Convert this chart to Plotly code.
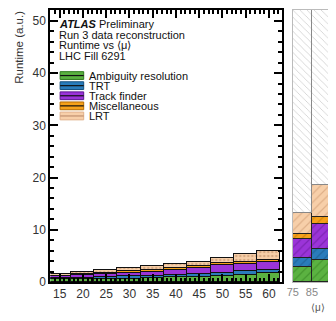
import plotly.graph_objects as go

# ---------------- data ----------------
mu_bins = [15, 20, 25, 30, 35, 40, 45, 50, 55, 60]
ambiguity = [0.50, 0.55, 0.60, 0.65, 0.75, 0.90, 1.00, 1.20, 1.35, 1.70]
trt = [0.20, 0.25, 0.35, 0.40, 0.45, 0.45, 0.60, 0.60, 0.75, 0.60]
track_finder = [0.35, 0.45, 0.55, 0.75, 0.80, 0.95, 1.10, 1.40, 1.40, 1.60]
misc = [0.15, 0.20, 0.25, 0.30, 0.35, 0.30, 0.30, 0.40, 0.40, 0.40]
lrt = [0.35, 0.45, 0.50, 0.50, 0.65, 0.80, 0.80, 1.00, 1.40, 1.60]

ext_bins = [80, 90]
ext_ambiguity = [2.8, 4.3]
ext_trt = [1.8, 2.0]
ext_track_finder = [3.6, 4.8]
ext_misc = [1.0, 1.3]
ext_lrt = [4.0, 6.1]

y_max = 52.1
x_ticks = [15, 20, 25, 30, 35, 40, 45, 50, 55, 60]
y_ticks = [0, 10, 20, 30, 40, 50]
ext_ticks = [75, 85, 95]

names = ["Ambiguity resolution", "TRT", "Track finder", "Miscellaneous", "LRT"]
colors = ["#5bb241", "#2a7cbb", "#9b34d8", "#f5a11b", "#f7cfa9"]
dark = ["#2f7a1e", "#16507f", "#5f1590", "#b56a00", "#c7926a"]

# page has an 8px body margin: figure occupies window pixels 8..336 / 8..321
OFF = 8
W, H = 336 - OFF, 321 - OFF
def px(x):
    return min(1, max(0, (x - OFF) / W))
def py(y):
    return min(1, max(0, 1 - (y - OFF) / H))

fig = go.Figure()

main_series = [ambiguity, trt, track_finder, misc, lrt]
ext_series = [ext_ambiguity, ext_trt, ext_track_finder, ext_misc, ext_lrt]

for i, (nm, vals) in enumerate(zip(names, main_series)):
    pattern = dict(shape=".", fgcolor="#b8865e", bgcolor=colors[i], size=4, solidity=0.35) if nm == "LRT" else None
    fig.add_trace(go.Bar(
        x=mu_bins, y=vals, width=5, name=nm, showlegend=False,
        marker=dict(color=colors[i], line=dict(color="#111", width=1), pattern=pattern),
        xaxis="x", yaxis="y"))

for i, (nm, vals) in enumerate(zip(names, ext_series)):
    fig.add_trace(go.Bar(
        x=ext_bins, y=vals, width=10, name=nm, showlegend=False,
        marker=dict(color=colors[i], line=dict(color="#222", width=1),
                    pattern=dict(shape="/", fgcolor=dark[i], bgcolor=colors[i], size=6, solidity=0.2)),
        xaxis="x2", yaxis="y2"))

# remaining (extrapolated) region above the stacks
ext_tot = [sum(v) for v in zip(*ext_series)]
fig.add_trace(go.Bar(
    x=ext_bins, y=[y_max - t for t in ext_tot], width=10, showlegend=False,
    marker=dict(color="white", line=dict(color="#888", width=1),
                pattern=dict(shape="\\", fgcolor="#9a9a9a", bgcolor="white", size=5, solidity=0.15)),
    xaxis="x2", yaxis="y2"))

font = "Liberation Sans, Arial, sans-serif"
ydom = [py(288), py(8)]

fig.update_layout(
    width=W, height=H, barmode="stack", bargap=0,
    margin=dict(l=0, r=0, t=0, b=0),
    plot_bgcolor="white", paper_bgcolor="white",
    font=dict(family=font, size=12, color="#222"),
    xaxis=dict(domain=[px(45), px(281)], range=[13, 62.8], tickvals=x_ticks,
               ticks="inside", ticklen=8, tickwidth=1.5, tickcolor="black",
               minor=dict(dtick=1, ticks="inside", ticklen=4, tickcolor="black"),
               showline=True, linecolor="black", linewidth=2, mirror="ticks",
               showgrid=False, zeroline=False, anchor="y",
               tickfont=dict(size=12, color="#333")),
    yaxis=dict(domain=ydom, range=[0, y_max], tickvals=y_ticks,
               ticks="inside", ticklen=8, tickwidth=1.5, tickcolor="black",
               minor=dict(dtick=2, ticks="inside", ticklen=4, tickcolor="black"),
               showline=True, linecolor="black", linewidth=2, mirror="ticks",
               showgrid=False, zeroline=False, anchor="x",
               tickfont=dict(size=12, color="#333")),
    xaxis2=dict(domain=[px(292), px(331)], range=[75, 95], tickvals=ext_ticks,
                ticks="", showline=True, linecolor="#bbb", linewidth=1, mirror=True,
                showgrid=False, zeroline=False, anchor="y2",
                tickfont=dict(size=11, color="#888")),
    yaxis2=dict(domain=ydom, range=[0, y_max], showticklabels=False, ticks="",
                showline=True, linecolor="#bbb", linewidth=1, mirror=True,
                showgrid=False, zeroline=False, anchor="x2"),
)

ann = []
ann.append(dict(x=px(13), y=py(46), xref="paper", yref="paper", text="Runtime (a.u.)",
                textangle=-90, xanchor="center", yanchor="middle", showarrow=False,
                borderpad=0, font=dict(size=11.5, color="#333")))
ann.append(dict(x=px(318), y=py(314), xref="paper", yref="paper", text="⟨μ⟩",
                xanchor="center", yanchor="middle", showarrow=False, borderpad=0,
                font=dict(size=10, color="#555")))
header = ["<b><i>ATLAS</i></b> Preliminary", "Run 3 data reconstruction",
          "Runtime vs ⟨μ⟩", "LHC Fill 6291"]
for k, t in enumerate(header):
    ann.append(dict(x=px(53), y=py(22.5 + 11 * k), xref="paper", yref="paper", text=t,
                    xanchor="left", yanchor="middle", showarrow=False, borderpad=0,
                    font=dict(size=11, color="#111")))
shapes = []
for k, nm in enumerate(names):
    yc = 75.5 + 10.4 * k
    shapes.append(dict(type="rect", xref="paper", yref="paper",
                       x0=px(55), x1=px(79), y0=py(yc + 4), y1=py(yc - 4),
                       fillcolor=colors[k], line=dict(color=dark[k] if k < 4 else "#e0b08a", width=1)))
    shapes.append(dict(type="line", xref="paper", yref="paper",
                       x0=px(55), x1=px(79), y0=py(yc), y1=py(yc),
                       line=dict(color="#111" if k < 4 else "#c09070", width=1.2)))
    ann.append(dict(x=px(83), y=py(yc), xref="paper", yref="paper", text=nm,
                    xanchor="left", yanchor="middle", showarrow=False, borderpad=0,
                    font=dict(size=11, color="#111")))
fig.update_layout(annotations=ann, shapes=shapes)

fig.write_html("out.html")
